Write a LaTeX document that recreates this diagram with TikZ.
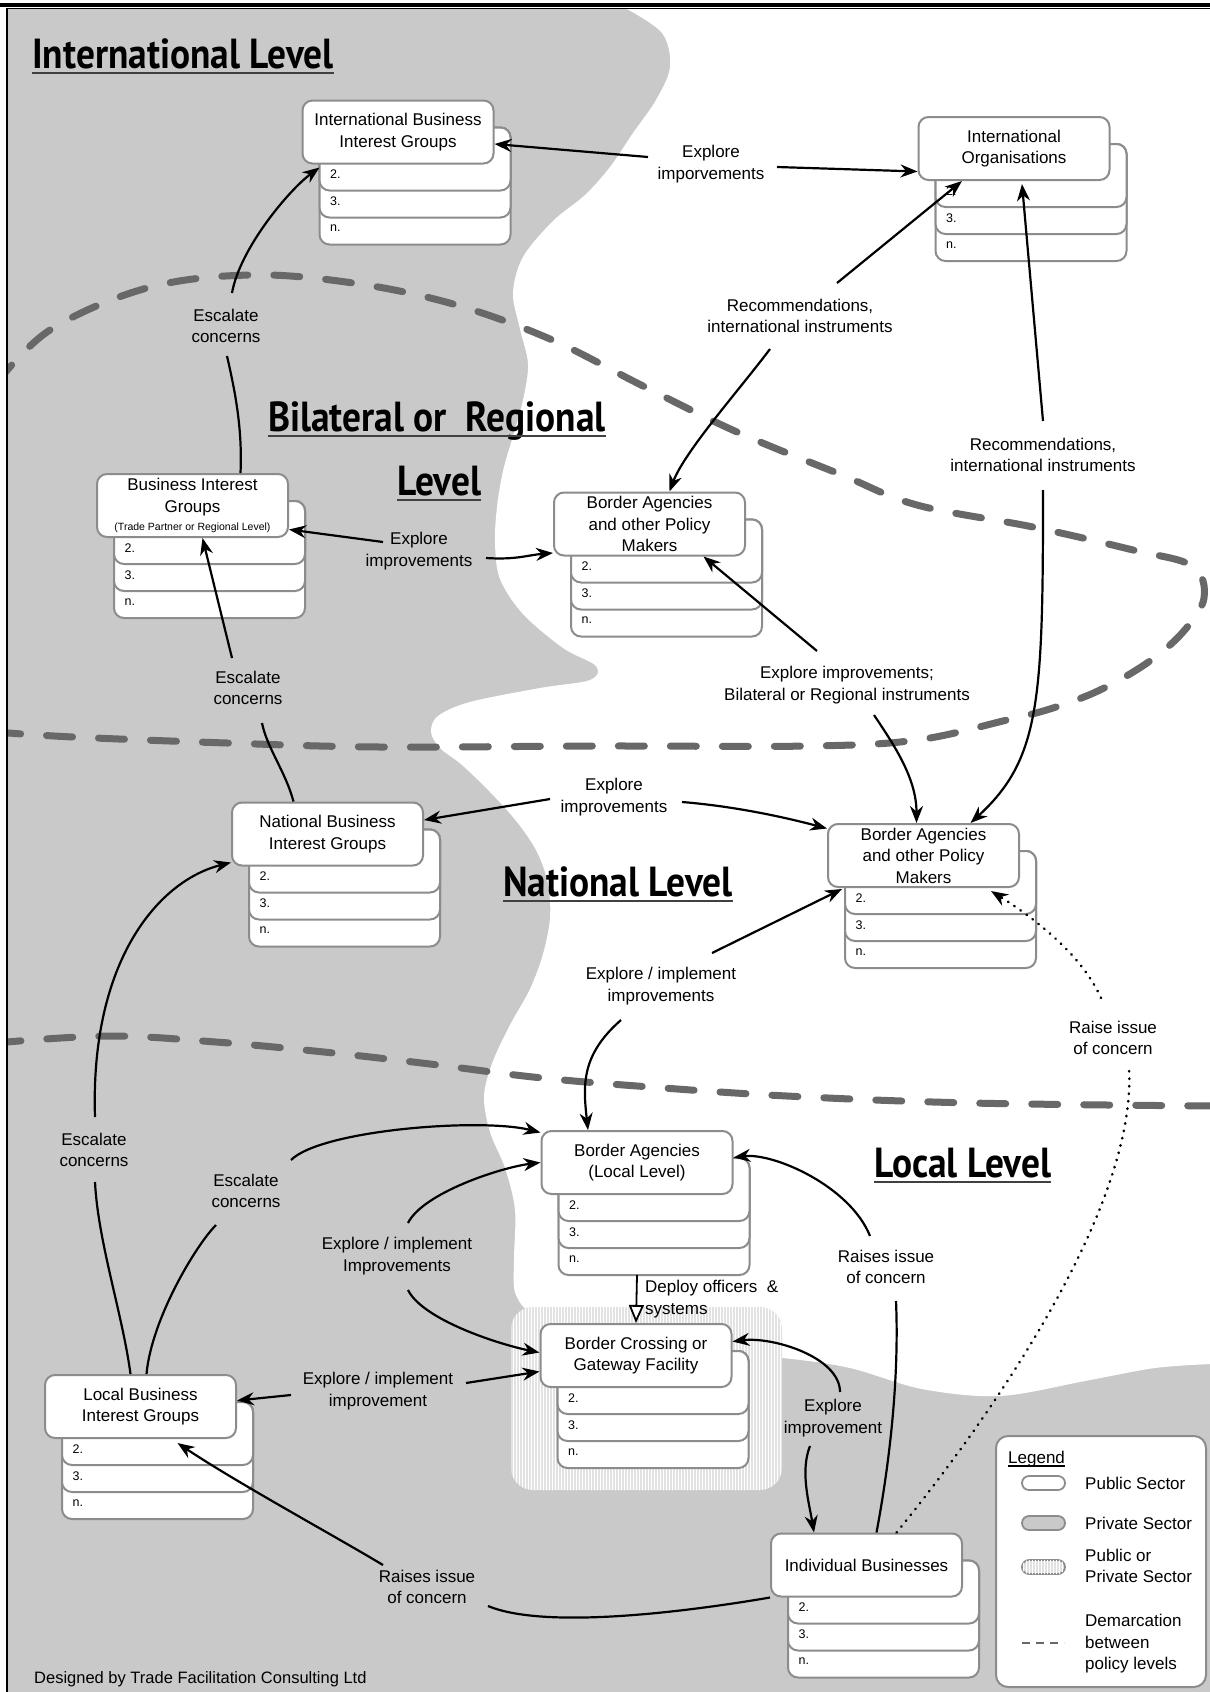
\documentclass[tikz,border=0pt]{standalone}
\usepackage{fontspec}
\setmainfont{Liberation Sans}
\newfontfamily\handfont[FakeStretch=0.89]{PT Sans}
\usetikzlibrary{arrows.meta,calc,patterns,positioning}

\definecolor{bggray}{RGB}{201,201,201}
\definecolor{boxgray}{RGB}{140,140,140}
\definecolor{dashgray}{RGB}{104,104,104}
\definecolor{hatchgray}{RGB}{226,226,226}

\tikzset{
  mainbox/.style={draw=boxgray, fill=white, line width=2pt, rounded corners=10pt,
    minimum width=191pt, minimum height=63pt, inner sep=2pt, align=center,
    font=\fontsize{17}{21.5}\selectfont},
  stackbox/.style={draw=boxgray, fill=white, line width=2pt, rounded corners=10pt},
  rowlabel/.style={anchor=west, inner sep=0pt, font=\fontsize{12.5}{14}\selectfont},
  lbl/.style={align=center, inner sep=0pt, font=\fontsize{17}{21.5}\selectfont},
  conn/.style={draw, line width=2.2pt, -{Stealth[length=17pt,width=13pt]}},
  link/.style={draw, line width=2.2pt},
  dotline/.style={draw, line width=2.6pt, line cap=round, dash pattern=on 0.5pt off 7pt},
  levelline/.style={draw=dashgray, line width=7pt, line cap=round, dash pattern=on 26pt off 26pt},
  leveltitle/.style={anchor=base west, inner sep=0pt, font=\handfont\bfseries\fontsize{42}{46}\selectfont},
  hatched/.style={fill=hatchgray, postaction={pattern=vertical lines, pattern color=white}},
}

\begin{document}
\begin{tikzpicture}[x=1pt,y=-1pt]
\useasboundingbox (0,0) rectangle (1210,1692);
\fill[white] (0,0) rectangle (1210,1692);
% Hintergrund: grau = privat, weiss = oeffentlich
\begin{scope}
\clip (7,8) rectangle (1210,1692);
\fill[bggray] (7,8) rectangle (1210,1692);
\fill[white] plot[smooth, tension=0.55] coordinates {(625,8) (662,33) (670,67) (656,100) (633,133)
  (610,167) (585,195) (553,221) (523,257) (513,293) (520,329) (528,364) (523,400) (513,436)
  (503,471) (497,507) (495,543) (500,579) (523,614) (563,648) (596,666) (590,680) (540,688)
  (470,702) (438,716) (431,732) (440,748) (462,765) (490,792) (517,822) (537,852) (548,884)
  (550,918) (543,954) (530,989) (510,1025) (493,1061) (484,1096) (490,1132) (505,1168)
  (515,1210) (514,1260) (516,1295) (540,1318) (620,1343) (700,1352) (783,1358) (850,1368)
  (922,1389) (1000,1396) (1085,1381) (1155,1368) (1212,1364)} -- (1212,8) -- cycle;
\fill[hatched, rounded corners=22pt] (511,1307) rectangle (782,1490);
% Grenzen zwischen den Ebenen
\draw[levelline] plot[smooth, tension=0.6] coordinates {(-5,385) (50,330) (147,288) (250,275)
  (353,283) (453,304) (550,339) (643,386) (737,432) (842,475) (917,505) (1033,527) (1133,550)
  (1192,566) (1204,598) (1183,632) (1147,663) (1100,690) (1053,708) (1007,720) (917,740)
  (810,746) (600,746) (380,747) (227,743) (73,737) (-5,732)};
\draw[levelline] plot[smooth, tension=0.6] coordinates {(-5,1043) (108,1036) (216,1042)
  (324,1052) (430,1064) (533,1077) (637,1086) (787,1096) (971,1103) (1215,1106)};
\end{scope}

\node[leveltitle] (tInt) at (32,68) {International Level};
\node[leveltitle] (tBil) at (268,431) {Bilateral or~~Regional};
\node[leveltitle] (tBil2) at (397,495) {Level};
\node[leveltitle] (tNat) at (503,896) {National Level};
\node[leveltitle] (tLoc) at (874,1177) {Local Level};
\foreach \t in {tInt,tBil,tBil2,tNat,tLoc}
  \draw[line width=1.5pt, black!75] ($(\t.base west)+(0,5)$) -- ($(\t.base east)+(0,5)$);

% Knoten mit Stapel 2., 3., n.
\foreach \nm/\px/\py/\txt in {
  ibig/398/132/{International Business\\Interest Groups},
  io/1014/148.5/{International\\Organisations},
  big/192.5/505.5/{Business Interest\\Groups\\[-3pt]{\fontsize{10.5}{12}\selectfont(Trade Partner or Regional Level)}},
  ba1/649.5/524/{Border Agencies\\and other Policy\\Makers},
  nbig/327.5/834/{National Business\\Interest Groups},
  ba2/923.5/855.5/{Border Agencies\\and other Policy\\Makers},
  ba3/637/1162.5/{Border Agencies\\(Local Level)},
  bcf/636/1355.5/{Border Crossing or\\Gateway Facility},
  lbig/140.5/1406.5/{Local Business\\Interest Groups},
  ib/866.5/1565/{Individual Businesses}}{
  \foreach \row/\lab in {81/n.,54/3.,27/2.}{
    \draw[stackbox] (\px-78.5,\py-4.5) rectangle (\px+112.5,\py+31.5+\row);
    \node[rowlabel] (\nm-\row) at (\px-68,\py+15.5+\row) {\lab};
  }
  \coordinate (\nm-s) at (\px,\py+112.5);
  \node[mainbox] (\nm) at (\px,\py) {\txt};
}

% Beschriftungen
\node[lbl] (L1) at (711,164) {Explore\\imporvements};
\node[lbl] (L2) at (226,326) {Escalate\\concerns};
\node[lbl] (L3) at (419,551) {Explore\\improvements};
\node[lbl] (L4) at (248,688) {Escalate\\concerns};
\node[lbl] (L5) at (800,316) {Recommendations,\\international instruments};
\node[lbl] (L6) at (1043,455) {Recommendations,\\international instruments};
\node[lbl] (L7) at (847,685) {Explore improvements;\\Bilateral or Regional instruments};
\node[lbl] (L8) at (614,797) {Explore\\improvements};
\node[lbl] (L9) at (661,986) {Explore / implement\\improvements};
\node[lbl] (L10) at (1113,1038) {Raise issue\\of concern};
\node[lbl] (L11) at (94,1150) {Escalate\\concerns};
\node[lbl] (L12) at (246,1191) {Escalate\\concerns};
\node[lbl] (L13) at (397,1256) {Explore / implement\\Improvements};
\node[lbl] (L14) at (378,1391) {Explore / implement\\improvement};
\node[lbl, anchor=west, align=left] (L15) at (645,1299) {Deploy officers~~\&\\systems};
\node[lbl] (L16) at (886,1267) {Raises issue\\of concern};
\node[lbl] (L17) at (833,1418) {Explore\\improvement};
\node[lbl] (L18) at (427,1587) {Raises issue\\of concern};

% Verbindungen
\draw[conn] ($(L1)+(-63,-7)$) -- ($(ibig.east)+(0,12)$);
\draw[conn] ($(L1)+(66,3)$) -- ($(io.west)+(0,23)$);
\draw[conn] ($(L2)+(6,-33)$) .. controls +(8,-45) and +(-30,22) .. ($(ibig.south west)+(18,3)$);
\draw[link] ($(big.north)+(48,0)$) .. controls +(2,-45) and +(8,35) .. ($(L2)+(1,30)$);
\draw[conn] ($(L3)+(-36,-9)$) -- ($(big.east)+(0,24)$);
\draw[conn] ($(L3)+(67,7)$) .. controls +(30,2) and +(-25,2) .. ($(ba1.west)+(0,29)$);
\draw[conn] ($(L4)+(-16,-30)$) -- ($(big.south)+(10,0)$);
\draw[link] ($(nbig.north)+(-34,0)$) .. controls +(-8,-30) and +(5,25) .. ($(L4)+(14,35)$);
\draw[conn] ($(L5)+(37,-33)$) -- ($(io.south)+(-52,0)$);
\draw[conn] ($(L5)+(-30,33)$) .. controls +(-30,40) and +(15,-40) .. ($(ba1.north)+(20,0)$);
\draw[conn] ($(L6)+(0,-34)$) -- ($(io.south)+(8,3)$);
\draw[conn] ($(L6)+(0,35)$) .. controls +(0,210) and +(70,-64) .. ($(ba2.north)+(47,0)$);
\draw[conn] ($(L7)+(-30,-34)$) -- ($(ba1.south)+(54,0)$);
\draw[conn] ($(L7)+(27,30)$) .. controls +(20,30) and +(0,-45) .. ($(ba2.north)+(-7,0)$);
\draw[conn] ($(L8)+(-64,2)$) -- ($(nbig.east)+(0,-14)$);
\draw[conn] ($(L8)+(68,5)$) .. controls +(50,4) and +(-45,-12) .. ($(ba2.west)+(0,-27)$);
\draw[conn] ($(L9)+(51,-33)$) -- ($(ba2.south west)+(15,1)$);
\draw[conn] ($(L9)+(-40,34)$) .. controls +(-40,35) and +(-5,-45) .. ($(ba3.north)+(-49,0)$);
\draw[conn, dotline] ($(L10)+(-12,-40)$) .. controls +(-20,-45) and +(40,25) .. ($(ba2.south east)+(-29,3)$);
\draw[dotline] ($(ib.north)+(30,0)$) .. controls +(90,-110) and +(8,140) .. ($(L10)+(16,31)$);
\draw[conn] ($(L11)+(1,-33)$) .. controls +(-5,-157) and +(-72,18) .. ($(nbig.south west)+(0,-4)$);
\draw[link] ($(lbig.north)+(-10,0)$) .. controls +(-8,-60) and +(3,60) .. ($(L11)+(1,32)$);
\draw[conn] ($(L12)+(45,-31)$) .. controls +(30,-30) and +(-60,-15) .. ($(ba3.west)+(0,-30)$);
\draw[link] ($(lbig.north)+(6,0)$) .. controls +(5,-55) and +(-20,20) .. ($(L12)+(-30,34)$);
\draw[conn] ($(L13)+(11,-33)$) .. controls +(15,-30) and +(-40,5) .. (ba3.west);
\draw[conn] ($(L13)+(11,34)$) .. controls +(15,30) and +(-40,-8) .. ($(bcf.west)+(0,-3)$);
\draw[conn] ($(L14)+(-87,4)$) -- ($(lbig.east)+(0,-6)$);
\draw[conn] ($(L14)+(88,-8)$) -- ($(bcf.west)+(0,16)$);
\draw[line width=1.8pt, -{Triangle[length=18pt,width=15pt,fill=white]}] (ba3-s) -- (bcf.north);
\draw[conn] ($(L16)+(-16,-31)$) .. controls +(-20,-50) and +(40,-5) .. ($(ba3.east)+(0,-5)$);
\draw[link] ($(ib.north)+(10,0)$) .. controls +(15,-80) and +(3,70) .. ($(L16)+(10,34)$);
\draw[conn] ($(L17)+(7,-26)$) .. controls +(0,-35) and +(40,-5) .. ($(bcf.east)+(0,-14)$);
\draw[conn] ($(L17)+(-23,28)$) .. controls +(-10,25) and +(-5,-30) .. ($(ib.north west)+(44,0)$);
\draw[conn] ($(L18)+(-44,-22)$) .. controls +(-50,-30) and +(60,40) .. ($(lbig.south)+(37,4)$);
\draw[link] ($(L18)+(61,19)$) .. controls +(60,25) and +(-70,12) .. (ib.south west);

% Legende
\draw[stackbox, rounded corners=12pt] (996,1436) rectangle (1206,1687);
\node[lbl, anchor=base west] (leg) at (1008,1463) {Legend};
\draw[line width=1.2pt] ($(leg.base west)+(0,3)$) -- ($(leg.base east)+(0,3)$);
\draw[draw=boxgray, line width=1.8pt, fill=white, rounded corners=7pt] (1022,1476) rectangle (1065,1490);
\draw[draw=boxgray, line width=1.8pt, fill=bggray, rounded corners=7pt] (1022,1516) rectangle (1065,1530);
\draw[draw=boxgray, line width=1.8pt, hatched, rounded corners=7pt] (1022,1560) rectangle (1065,1574);
\draw[dashgray, line width=2pt, dash pattern=on 8pt off 6pt] (1022,1643) -- (1064,1643);
\node[lbl, anchor=west, align=left] (leg1) at (1085,1483) {Public Sector};
\node[lbl, anchor=west, align=left] (leg2) at (1085,1523) {Private Sector};
\node[lbl, anchor=west, align=left] (leg3) at (1085,1566) {Public or\\Private Sector};
\node[lbl, anchor=west, align=left] (leg4) at (1085,1644) {Demarcation\\between\\policy levels};

\node[anchor=base west, inner sep=0pt, font=\fontsize{16.5}{20}\selectfont] (credit) at (34,1683)
  {Designed by Trade Facilitation Consulting Ltd};

% Rahmen
\draw[line width=4pt] (0,5) -- (1210,5);
\draw[line width=1.5pt] (6,8.5) -- (1210,8.5);
\draw[line width=2.5pt] (7,8) -- (7,1692);
\end{tikzpicture}
\end{document}
